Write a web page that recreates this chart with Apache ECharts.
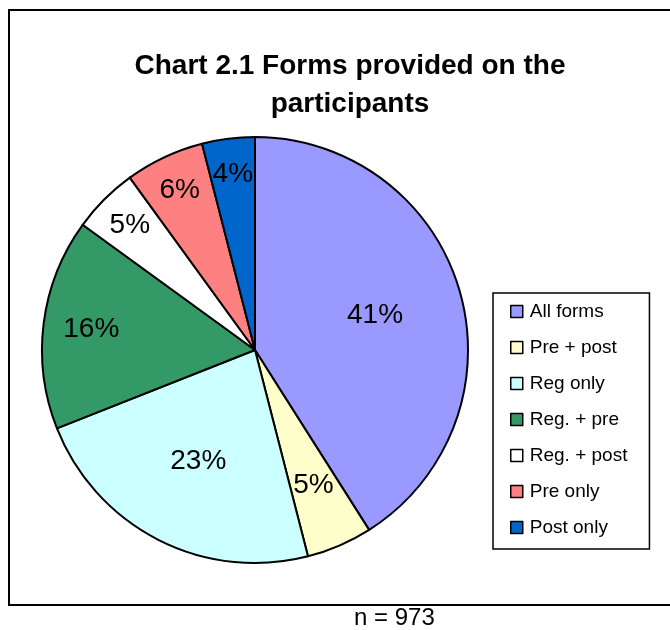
<!DOCTYPE html>
<html>
<head>
<meta charset="utf-8">
<script src="https://cdn.jsdelivr.net/npm/echarts@6/dist/echarts.min.js"></script>
<style>
html,body{margin:0;padding:0;background:#fff;}
#chart{width:670px;height:630px;}
</style>
</head>
<body>
<div id="chart"></div>
<script>
var categories = ['All forms', 'Pre + post', 'Reg only', 'Reg. + pre', 'Reg. + post', 'Pre only', 'Post only'];
var values = [41, 5, 23, 16, 5, 6, 4];
var colors = ['#9999FF', '#FFFFCC', '#CCFFFF', '#339966', '#FFFFFF', '#FF8080', '#0066CC'];
// which label ring each slice's percentage label sits in (mimics Excel best-fit)
var labelRing = [0, 1, 0, 3, 2, 2, 2];
var titleText = 'Chart 2.1 Forms provided on the\nparticipants';
var noteText = 'n = 973';

var FONT = 'Liberation Sans, Arial, sans-serif';
var chart = echarts.init(document.getElementById('chart'), null, {renderer: 'canvas'});

var R = 213;
var ringRadii = [[0, 244], [0, 288], [130, 218], [0, 324]];

function ringSeries(k) {
  return {
    type: 'pie',
    silent: true,
    center: [255, 350],
    radius: ringRadii[k],
    startAngle: 90,
    clockwise: true,
    animation: false,
    z: 5,
    itemStyle: {color: 'rgba(0,0,0,0)', borderWidth: 0},
    label: {
      position: 'inside',
      formatter: function (p) { return p.value + '%'; },
      color: '#000',
      fontFamily: FONT,
      fontSize: 28
    },
    labelLine: {show: false},
    emphasis: {disabled: true},
    data: categories.map(function (c, i) {
      return {name: c, value: values[i], label: {show: labelRing[i] === k}};
    })
  };
}

var option = {
  animation: false,
  color: colors,
  title: {
    text: titleText,
    left: 345,
    textAlign: 'center',
    top: 42,
    textStyle: {fontFamily: FONT, fontWeight: 'bold', fontSize: 28, lineHeight: 38, color: '#000'}
  },
  legend: {
    orient: 'vertical',
    left: 493,
    top: 293,
    padding: [8, 22, 11, 17],
    borderColor: '#000',
    borderWidth: 1.5,
    itemWidth: 12,
    itemHeight: 12,
    itemGap: 15,
    icon: 'rect',
    selectedMode: false,
    itemStyle: {borderColor: '#000', borderWidth: 1.5},
    textStyle: {fontFamily: FONT, fontSize: 19, color: '#000', lineHeight: 21, padding: [0, 0, 0, 2]},
    data: categories
  },
  graphic: [
    {
      type: 'rect',
      shape: {x: 9, y: 10, width: 670, height: 595},
      style: {fill: 'none', stroke: '#000', lineWidth: 2},
      silent: true,
      z: -1
    },
    {
      type: 'text',
      left: 354,
      top: 606,
      style: {text: noteText, font: '24px ' + FONT, fill: '#000'}
    }
  ],
  series: [
    {
      type: 'pie',
      center: [255, 350],
      radius: [0, R],
      startAngle: 90,
      clockwise: true,
      silent: true,
      z: 2,
      itemStyle: {borderColor: '#000', borderWidth: 2},
      label: {show: false},
      labelLine: {show: false},
      emphasis: {disabled: true},
      data: categories.map(function (c, i) {
        return {name: c, value: values[i], itemStyle: {color: colors[i]}};
      })
    },
    ringSeries(0),
    ringSeries(1),
    ringSeries(2),
    ringSeries(3)
  ]
};
chart.setOption(option);
</script>
</body>
</html>
